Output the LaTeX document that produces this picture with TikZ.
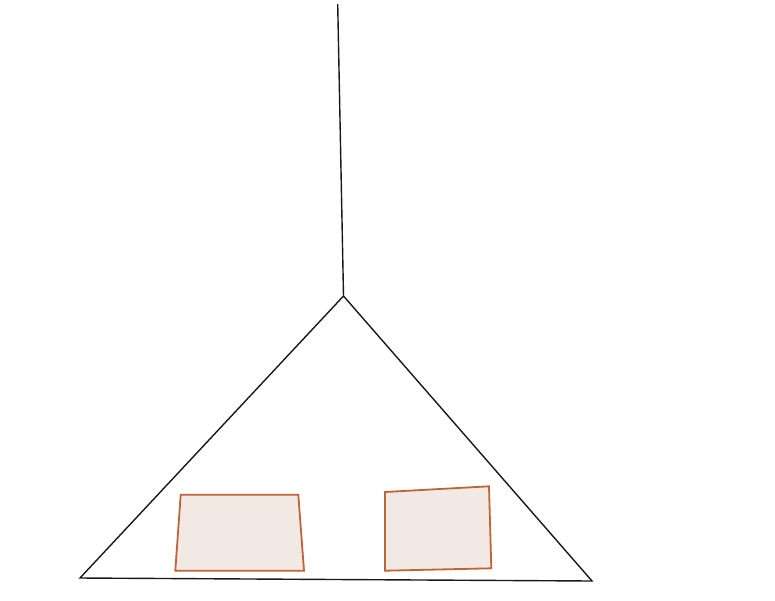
\documentclass[tikz,border=0pt]{standalone}
\begin{document}
\begin{tikzpicture}[x=1pt,y=-1pt,
  wire/.style={draw=black!90, line width=1.4pt, line join=miter},
  panel/.style={draw={rgb,255:red,190;green,100;blue,55}, fill={rgb,255:red,243;green,233;blue,228}, line width=1.8pt, line join=miter}]
\useasboundingbox (0,0) rectangle (775,600);
\coordinate (top) at (337.7,4);
\coordinate (apex) at (343.5,296);
\coordinate (bl) at (80,578);
\coordinate (br) at (592,581);
\draw[wire] (top) -- (apex);
\draw[wire] (apex) -- (bl) -- (br) -- cycle;
\draw[panel] (180.7,494.7) -- (298.3,494.7) -- (304,570.7) -- (175.3,570.7) -- cycle;
\draw[panel] (385,492) -- (489,486.3) -- (491.3,568.3) -- (385,570.7) -- cycle;
\end{tikzpicture}
\end{document}
